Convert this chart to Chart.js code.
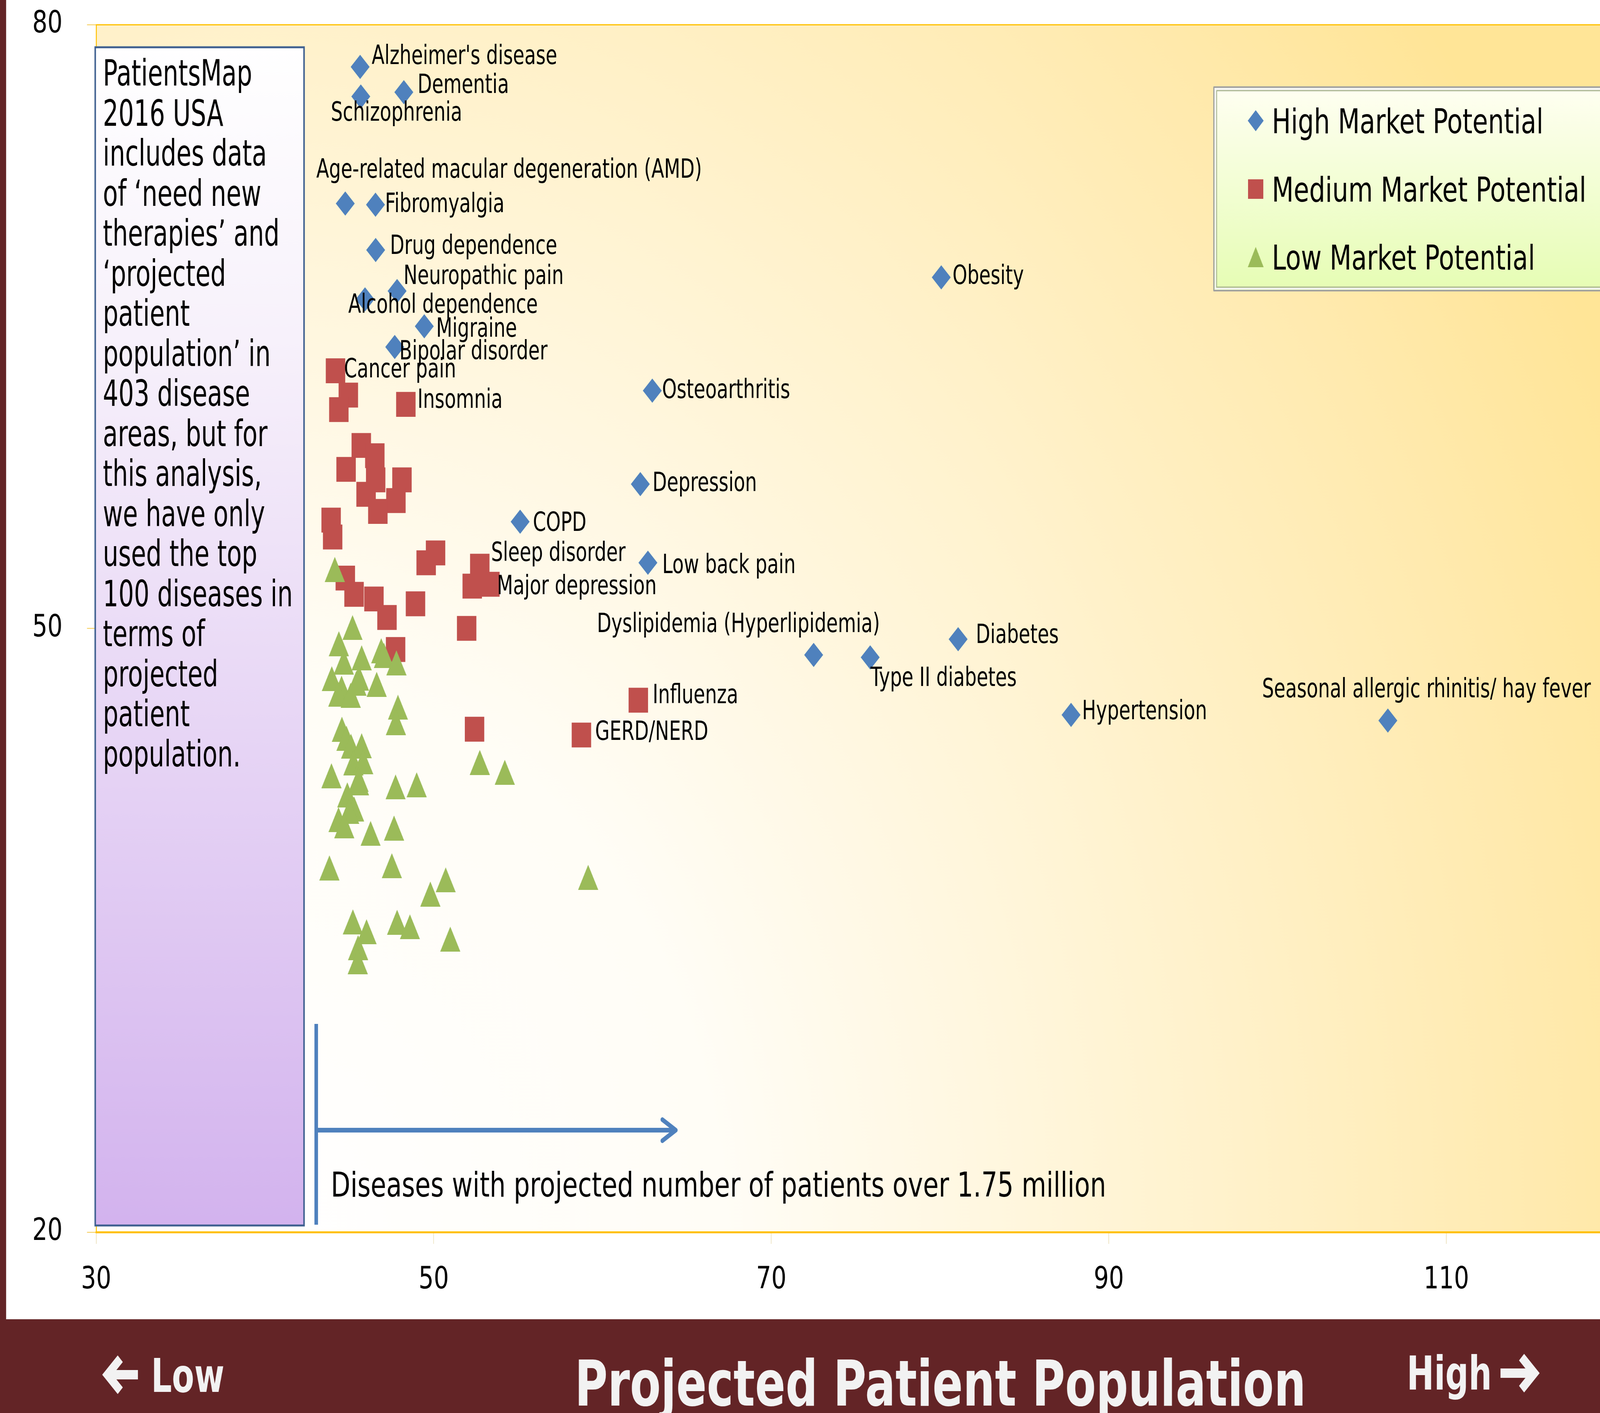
<!DOCTYPE html>
<html>
<head>
<meta charset="utf-8">
<script src="https://cdn.jsdelivr.net/npm/chart.js@4.4.1/dist/chart.umd.min.js"></script>
<style>
  html, body { margin: 0; padding: 0; background: #fff; overflow: hidden; width: 100vw; height: 100vh; }
  #outer { position: relative; width: 100vw; height: 100vh; overflow: hidden; }
  #wrap { position: absolute; left: 0; top: 0; width: 5242px; height: 3617px; transform-origin: 0 0; }
  canvas { display: block; }
</style>
</head>
<body>
<div id="outer"><div id="wrap"><canvas id="chart" width="5242" height="3617"></canvas></div></div>
<script>
const W = 5242, H = 3617;
const FONT = '"DejaVu Sans", Verdana, sans-serif';

// the drawing is laid out in picture pixels; stretch it over the window
document.getElementById('wrap').style.transform =
  'scale(' + (window.innerWidth / W) + ',' + (window.innerHeight / H) + ')';

// axis ticks
const xTicks = [30, 50, 70, 90, 110];
const yTicks = [20, 50, 80];

// High market potential (blue diamonds), all labelled
const highNames = ["Alzheimer's disease", 'Dementia', 'Schizophrenia', 'Age-related macular degeneration (AMD)',
  'Fibromyalgia', 'Drug dependence', 'Neuropathic pain', 'Alcohol dependence', 'Migraine', 'Bipolar disorder',
  'Osteoarthritis', 'Obesity', 'Depression', 'COPD', 'Low back pain', 'Dyslipidemia (Hyperlipidemia)',
  'Type II diabetes', 'Diabetes', 'Hypertension', 'Seasonal allergic rhinitis/ hay fever'];
const highX = [45.64, 48.23, 45.68, 44.76, 46.55, 46.56, 47.83, 45.93, 49.44, 47.69,
  62.95, 80.07, 62.24, 55.12, 62.69, 72.51, 75.86, 81.07, 87.76, 106.53];
const highY = [77.90, 76.64, 76.43, 71.11, 71.05, 68.80, 66.76, 66.35, 65.01, 63.98,
  61.81, 67.44, 57.17, 55.30, 53.26, 48.68, 48.56, 49.46, 45.70, 45.42];

// Medium market potential (red squares), '' = no label
const mediumNames = ['Cancer pain', '', '', 'Insomnia', '', '', '', '', '', '', '', '', '', '', '', '',
  'Sleep disorder', '', 'Major depression', '', '', '', '', '', '', '', 'Influenza', '', 'GERD/NERD'];
const mediumX = [44.18, 44.94, 44.38, 48.35, 45.71, 46.51, 44.81, 46.56, 48.12, 45.99, 47.76, 46.69, 43.92, 44.01,
  50.11, 49.55, 52.73, 52.28, 53.33, 44.76, 45.28, 46.46, 47.23, 48.92, 51.95, 47.74, 62.12, 52.42, 58.75];
const mediumY = [62.80, 61.59, 60.87, 61.13, 59.09, 58.58, 57.90, 57.38, 57.38, 56.66, 56.35, 55.81, 55.38, 54.54,
  53.75, 53.26, 53.09, 52.10, 52.19, 52.50, 51.69, 51.46, 50.54, 51.22, 50.00, 48.95, 46.43, 44.99, 44.70];

// Low market potential (green triangles)
const lowX = [44.14, 45.19, 44.38, 44.67, 45.73, 46.89, 47.05, 47.79, 43.96, 44.54, 44.34, 45.08, 45.57, 45.42,
  46.62, 47.88, 47.76, 44.56, 44.83, 45.10, 45.73, 43.94, 45.24, 45.82, 45.57, 45.55, 44.88, 45.28, 44.99,
  44.36, 44.70, 46.26, 47.74, 48.99, 47.65, 43.82, 47.52, 50.71, 49.80, 45.21, 46.02, 45.52, 45.50, 47.83,
  48.59, 50.98, 52.73, 54.21, 59.15];
const lowY = [52.93, 50.04, 49.24, 48.33, 48.54, 48.89, 48.66, 48.29, 47.50, 47.03, 46.72, 46.68, 47.53, 47.28,
  47.22, 46.08, 45.32, 44.99, 44.54, 44.14, 44.17, 42.68, 43.32, 43.38, 42.33, 42.49, 41.73, 41.03, 40.91,
  40.50, 40.19, 39.81, 42.12, 42.23, 40.08, 38.10, 38.21, 37.50, 36.80, 35.42, 34.93, 34.14, 33.44, 35.40,
  35.17, 34.56, 43.34, 42.85, 37.63];

const seriesNames = ['High Market Potential', 'Medium Market Potential', 'Low Market Potential'];
const colors = ['#4F81BD', '#C0504D', '#9BBB59'];

const boxLines = ['PatientsMap', '2016 USA', 'includes data', 'of \u2018need new', 'therapies\u2019 and',
  '\u2018projected', 'patient', 'population\u2019 in', '403 disease', 'areas, but for', 'this analysis,',
  'we have only', 'used the top', '100 diseases in', 'terms of', 'projected', 'patient', 'population.'];

// label placement relative to the marker (px: text left, text middle)
const labelOffsets = {
  "Alzheimer's disease": [38, -31], 'Dementia': [45, -22], 'Schizophrenia': [-98, 38],
  'Age-related macular degeneration (AMD)': [-95, -90], 'Fibromyalgia': [31, -5],
  'Drug dependence': [47, -14], 'Neuropathic pain': [21, -42], 'Alcohol dependence': [-55, 11],
  'Migraine': [39, 3], 'Bipolar disorder': [15, 8], 'Osteoarthritis': [32, -5], 'Obesity': [37, -7],
  'Depression': [40, -6], 'COPD': [42, 0], 'Low back pain': [47, 2],
  'Dyslipidemia (Hyperlipidemia)': [-710, -83], 'Type II diabetes': [1, 49], 'Diabetes': [58, -14],
  'Hypertension': [36, -13], 'Seasonal allergic rhinitis/ hay fever': [-412, -83],
  'Cancer pain': [28, -7], 'Insomnia': [38, -15], 'Sleep disorder': [37, -37],
  'Major depression': [23, 1], 'Influenza': [47, -16], 'GERD/NERD': [45, -12]
};

const toPoints = (xs, ys) => xs.map((x, i) => ({ x: x, y: ys[i] }));

function triangleMarker(w, h, color) {
  const c = document.createElement('canvas');
  c.width = w; c.height = h;
  const g = c.getContext('2d');
  g.fillStyle = color;
  g.beginPath();
  g.moveTo(w / 2, 0); g.lineTo(w, h); g.lineTo(0, h);
  g.closePath(); g.fill();
  return c;
}

function putText(ctx, s, x, y, size, opts) {
  opts = opts || {};
  const sx = opts.scaleX || 1;
  ctx.save();
  ctx.font = (opts.bold ? 'bold ' : '') + size + 'px ' + FONT;
  ctx.fillStyle = opts.color || '#000';
  ctx.textBaseline = 'alphabetic';
  ctx.textAlign = 'left';
  ctx.translate(x, y);
  ctx.scale(sx, 1);
  if (opts.maxWidth) ctx.fillText(s, 0, 0, opts.maxWidth / sx);
  else ctx.fillText(s, 0, 0);
  ctx.restore();
}

function arrowLine(ctx, pts, width, color) {
  ctx.save();
  ctx.strokeStyle = color; ctx.lineWidth = width;
  ctx.lineJoin = 'miter'; ctx.lineCap = 'butt';
  ctx.beginPath();
  ctx.moveTo(pts[0][0], pts[0][1]);
  for (let i = 1; i < pts.length; i++) ctx.lineTo(pts[i][0], pts[i][1]);
  ctx.stroke();
  ctx.restore();
}

const triImg = triangleMarker(66, 64, colors[2]);

const decor = {
  id: 'decor',
  beforeDraw(chart) {
    const { ctx, chartArea: a } = chart;
    ctx.save();
    ctx.fillStyle = '#fff';
    ctx.fillRect(0, 0, W, H);
    const w = a.right - a.left, h = a.bottom - a.top;
    const cx = a.left + 0.12 * w, cy = a.bottom + 0.02 * h;
    const g = ctx.createRadialGradient(cx, cy, 0, cx, cy, w);
    g.addColorStop(0, '#FFFFFF');
    g.addColorStop(0.3, '#FFFDF6');
    g.addColorStop(0.6, '#FFF3D0');
    g.addColorStop(0.85, '#FFEAAE');
    g.addColorStop(1, '#FFE597');
    ctx.fillStyle = g;
    ctx.fillRect(a.left, a.top, w, h);
    // frame: bottom band and left strip
    ctx.fillStyle = '#632426';
    ctx.fillRect(0, 3377, W, H - 3377);
    ctx.fillRect(0, 0, 20, H);
    ctx.restore();
  },
  afterDatasetsDraw(chart) {
    const ctx = chart.ctx;
    const named = [[0, highNames], [1, mediumNames]];
    named.forEach(([di, names]) => {
      const meta = chart.getDatasetMeta(di);
      names.forEach((n, i) => {
        if (!n) return;
        const el = meta.data[i];
        const off = labelOffsets[n] || [35, 0];
        putText(ctx, n, el.x + off[0], el.y + off[1] + 24, 68, { scaleX: 0.9 });
      });
    });
  },
  afterDraw(chart) {
    const ctx = chart.ctx;
    ctx.save();
    // left text box
    const bx = 312, by = 121, bw = 684, bh = 3016;
    const bg = ctx.createLinearGradient(0, by, 0, by + bh);
    bg.addColorStop(0, '#FFFFFF');
    bg.addColorStop(0.25, '#F7F1FB');
    bg.addColorStop(1, '#D3B3EE');
    ctx.fillStyle = bg;
    ctx.fillRect(bx, by, bw, bh);
    ctx.strokeStyle = '#3F6090';
    ctx.lineWidth = 5;
    ctx.strokeRect(bx, by, bw, bh);
    boxLines.forEach((s, i) => {
      putText(ctx, s, 337, 219 + i * 102.5, 92, { scaleX: 0.87, maxWidth: 648 });
    });

    // threshold arrow
    const blue = '#4F81BD';
    arrowLine(ctx, [[1036, 2621], [1036, 3135]], 12, blue);
    arrowLine(ctx, [[1036, 2893], [2210, 2893]], 12, blue);
    ctx.lineCap = 'round';
    ctx.lineJoin = 'round';
    ctx.strokeStyle = blue; ctx.lineWidth = 12;
    ctx.beginPath();
    ctx.moveTo(2170, 2866); ctx.lineTo(2214, 2893); ctx.lineTo(2170, 2920);
    ctx.stroke();
    putText(ctx, 'Diseases with projected number of patients over 1.75 million', 1084, 3063, 88, { scaleX: 0.944 });

    // legend
    const lx = 3977, ly = 223, lh = 521, lw = W - lx + 40;
    const lg = ctx.createLinearGradient(0, ly, 0, ly + lh);
    lg.addColorStop(0, '#FFFFF2');
    lg.addColorStop(1, '#E6FDB4');
    ctx.fillStyle = lg;
    ctx.fillRect(lx, ly, lw, lh);
    ctx.lineWidth = 4; ctx.strokeStyle = '#A0A0A0';
    ctx.strokeRect(lx, ly, lw, lh);
    ctx.lineWidth = 4; ctx.strokeStyle = '#F4F4F4';
    ctx.strokeRect(lx + 5, ly + 5, lw, lh - 10);
    ctx.lineWidth = 3; ctx.strokeStyle = '#A9B592';
    ctx.strokeRect(lx + 9, ly + 9, lw, lh - 18);
    const rows = [309, 484, 658], mx = 4114;
    ctx.fillStyle = colors[0];
    ctx.beginPath();
    ctx.moveTo(mx, rows[0] - 27); ctx.lineTo(mx + 26, rows[0]); ctx.lineTo(mx, rows[0] + 27); ctx.lineTo(mx - 26, rows[0]);
    ctx.closePath(); ctx.fill();
    ctx.fillStyle = colors[1];
    ctx.fillRect(mx - 25, rows[1] - 25, 50, 50);
    ctx.drawImage(triImg, mx - 26, rows[2] - 26, 52, 52);
    seriesNames.forEach((s, i) => {
      putText(ctx, s, 4167, rows[i] + 32, 88, { scaleX: 0.94 });
    });

    // bottom band text
    const wht = '#F2F2F2';
    putText(ctx, 'Projected Patient Population', 1883, 3598, 162, { bold: true, scaleX: 0.91, color: wht });
    putText(ctx, 'Low', 495, 3563, 120, { bold: true, scaleX: 0.89, color: wht });
    putText(ctx, 'High', 4609, 3557, 120, { bold: true, scaleX: 0.89, color: wht });
    arrowLine(ctx, [[352, 3519], [452, 3519]], 24, wht);
    arrowLine(ctx, [[394, 3478], [352, 3519], [394, 3560]], 24, wht);
    arrowLine(ctx, [[4916, 3515], [5020, 3515]], 24, wht);
    arrowLine(ctx, [[4985, 3474], [5027, 3515], [4985, 3556]], 24, wht);
    ctx.restore();
  }
};

Chart.defaults.font.family = FONT;

new Chart(document.getElementById('chart'), {
  type: 'scatter',
  data: {
    datasets: [
      {
        label: seriesNames[0], data: toPoints(highX, highY), order: 2,
        pointStyle: 'rectRot', pointRadius: 31, pointBackgroundColor: colors[0], backgroundColor: colors[0],
        pointBorderWidth: 0
      },
      {
        label: seriesNames[1], data: toPoints(mediumX, mediumY), order: 1,
        pointStyle: 'rect', pointRadius: 45, pointBackgroundColor: colors[1], backgroundColor: colors[1],
        pointBorderWidth: 0
      },
      {
        label: seriesNames[2], data: toPoints(lowX, lowY), order: 0,
        pointStyle: triImg, pointRadius: 33, pointBackgroundColor: colors[2], backgroundColor: colors[2],
        pointBorderWidth: 0
      }
    ]
  },
  options: {
    responsive: false,
    devicePixelRatio: 1,
    animation: false,
    layout: { autoPadding: false, padding: { top: 63, left: 0, right: 0, bottom: 0 } },
    plugins: { legend: { display: false }, tooltip: { enabled: false } },
    scales: {
      x: {
        type: 'linear', min: 30, max: 119.1,
        afterBuildTicks: s => { s.ticks = xTicks.map(v => ({ value: v })); },
        afterFit: s => { s.height = 463; s.paddingLeft = 0; s.paddingRight = 0; },
        grid: { drawOnChartArea: false, tickLength: 30, tickColor: '#EADFB8', tickWidth: 2 },
        border: { color: '#FFC000', width: 5 },
        ticks: { font: { size: 78 }, color: '#000', padding: 47, autoSkip: false, maxRotation: 0 }
      },
      y: {
        type: 'linear', min: 20, max: 80,
        afterBuildTicks: s => { s.ticks = yTicks.map(v => ({ value: v })); },
        afterFit: s => { s.width = 315; s.paddingTop = 0; s.paddingBottom = 0; },
        grid: {
          color: c => (c.tick && c.tick.value === 80) ? '#FFC000' : 'rgba(0,0,0,0)',
          lineWidth: 3, tickLength: 30, tickColor: '#F5C84A', tickWidth: 2
        },
        border: { color: '#FFC000', width: 3 },
        ticks: { font: { size: 78 }, color: '#000', padding: 80 }
      }
    }
  },
  plugins: [decor]
});
</script>
</body>
</html>
